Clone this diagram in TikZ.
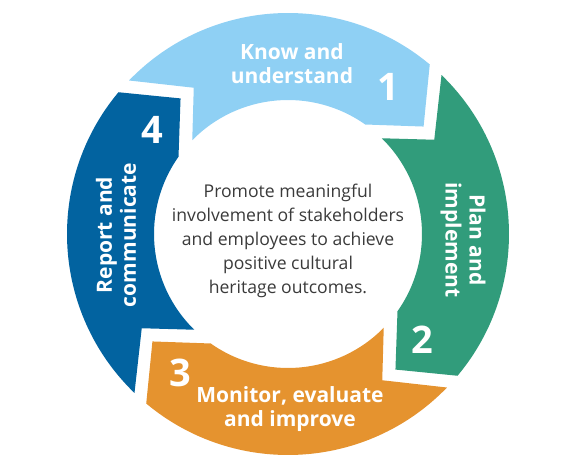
\documentclass[tikz,border=0pt]{standalone}
\usepackage{fontspec}
\setmainfont{Open Sans}
\definecolor{segA}{HTML}{8FD0F4}
\definecolor{segB}{HTML}{319C7B}
\definecolor{segC}{HTML}{E5932F}
\definecolor{segD}{HTML}{0263A0}
\definecolor{bodytext}{HTML}{3A3A3A}
\tikzset{
  seglabel/.style={text=white, font=\bfseries\fontsize{21}{24}\selectfont, align=center, inner sep=0pt},
  segnum/.style={text=white, font=\bfseries\fontsize{38}{38}\selectfont, inner sep=0pt},
  centertext/.style={text=bodytext, font=\fontsize{17.6}{24}\selectfont, align=center, inner sep=0pt}
}
\newcommand{\segshape}[2]{%
  \begin{scope}[shift={(288pt,235pt)}, rotate=#1]
    \fill[#2] (136:221pt) arc[start angle=136, end angle=50.1, radius=221pt]
      -- (38.4:173pt) -- (54.8:134pt)
      arc[start angle=54.8, end angle=135.6, radius=134pt]
      -- (122.8:174pt) -- cycle;
  \end{scope}}
\begin{document}
\begin{tikzpicture}[x=1pt,y=1pt]
\useasboundingbox (0,0) rectangle (579,469);
\segshape{0}{segA}
\segshape{-90}{segB}
\segshape{-180}{segC}
\segshape{90}{segD}
\node[seglabel] (t1) at (292,405) {Know and\\understand};
\node[segnum] (n1) at (388,382) {1};
\node[seglabel, rotate=-90] (t2) at (463,229) {Plan and\\implement};
\node[segnum] (n2) at (422,129) {2};
\node[seglabel] (t3) at (290,60) {Monitor, evaluate\\and improve};
\node[segnum] (n3) at (180,96) {3};
\node[seglabel, rotate=90] (t4) at (116,234) {Report and\\communicate};
\node[segnum] (n4) at (152,339) {4};
\node[centertext] (c) at (288,228) {Promote meaningful\\involvement of stakeholders\\and employees to achieve\\positive cultural\\heritage outcomes.};
\end{tikzpicture}
\end{document}
